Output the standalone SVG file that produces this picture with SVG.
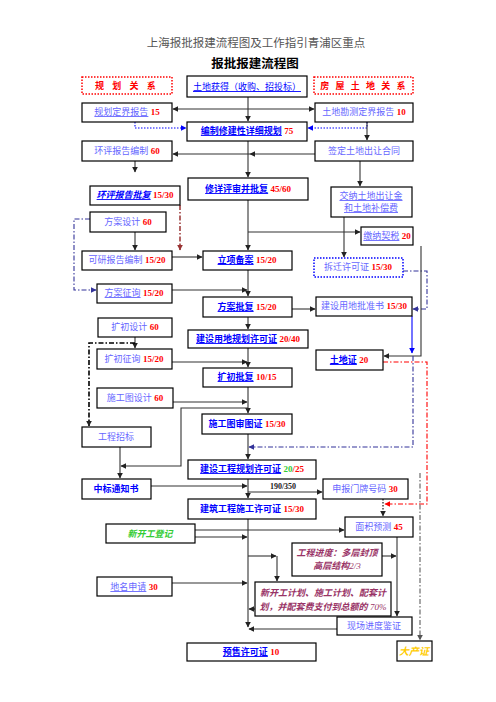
<svg xmlns="http://www.w3.org/2000/svg" width="496" height="702" viewBox="0 0 496 702">
<defs>
<style>
text{font-family:"Liberation Serif","Noto Sans CJK SC",serif;font-size:9px;text-anchor:middle}
.bx{fill:#fff;stroke:#000;stroke-width:1.2}
.rdb{fill:#fff;stroke:#f00;stroke-width:1.5;stroke-dasharray:1.5 1.5}
.bdb{fill:#fff;stroke:#00f;stroke-width:1.5;stroke-dasharray:1.5 1.5}
.lb{fill:#6666ff}
.bb{fill:#0000ff;font-weight:bold}
.bl{fill:#0000ff}
.u{text-decoration:underline}
.n{fill:#f00;font-weight:bold}
.rt{fill:#f00;font-weight:bold}
.it{font-style:italic}
.mg{fill:#993366;font-weight:bold;font-style:italic}
.ln{fill:none;stroke:#333;stroke-width:1.1}
.bln{fill:none;stroke:#00f;stroke-width:1.1}
.bdot{fill:none;stroke:#00f;stroke-width:1.1;stroke-dasharray:1.5 1.5}
.nv{fill:none;stroke:#333399;stroke-width:1.1;stroke-dasharray:5 2 1.5 2}
.rdd{fill:none;stroke:#f00;stroke-width:1.1;stroke-dasharray:5 2 1.5 2}
.drd{fill:none;stroke:#993333;stroke-width:1.5;stroke-dasharray:5 2 1.5 2}
.kdd{fill:none;stroke:#000;stroke-width:1.6;stroke-dasharray:5 2 1.5 2}
.gdd{fill:none;stroke:#777;stroke-width:1.3;stroke-dasharray:5 2 1.5 2}
.kdot{fill:none;stroke:#000;stroke-width:1.1;stroke-dasharray:1.5 1.5}
</style>
<marker id="a" viewBox="0 0 10 10" refX="9" refY="5" markerWidth="6" markerHeight="6" markerUnits="userSpaceOnUse" orient="auto"><path d="M0,0 L10,5 L0,10 z" fill="#222"/></marker>
<marker id="ab" viewBox="0 0 10 10" refX="9" refY="5" markerWidth="6" markerHeight="6" markerUnits="userSpaceOnUse" orient="auto"><path d="M0,0 L10,5 L0,10 z" fill="#00f"/></marker>
<marker id="an" viewBox="0 0 10 10" refX="9" refY="5" markerWidth="6" markerHeight="6" markerUnits="userSpaceOnUse" orient="auto"><path d="M0,0 L10,5 L0,10 z" fill="#333399"/></marker>
<marker id="ar" viewBox="0 0 10 10" refX="9" refY="5" markerWidth="6" markerHeight="6" markerUnits="userSpaceOnUse" orient="auto"><path d="M0,0 L10,5 L0,10 z" fill="#f00"/></marker>
<marker id="ad" viewBox="0 0 10 10" refX="9" refY="5" markerWidth="6" markerHeight="6" markerUnits="userSpaceOnUse" orient="auto"><path d="M0,0 L10,5 L0,10 z" fill="#993333"/></marker>
<marker id="ag" viewBox="0 0 10 10" refX="9" refY="5" markerWidth="6" markerHeight="6" markerUnits="userSpaceOnUse" orient="auto"><path d="M0,0 L10,5 L0,10 z" fill="#555"/></marker>
</defs>
<rect width="496" height="702" fill="#fff"/>
<text x="256" y="47" style="font-size:11.5px;fill:#555">上海报批报建流程图及工作指引青浦区重点</text>
<text x="255" y="68" style="font-size:12.5px;font-weight:bold;fill:#000">报批报建流程图</text>

<g id="connectors">
<path class="ln" d="M248,97 V121" marker-end="url(#a)"/>
<path class="ln" d="M248,109 H173" marker-end="url(#a)"/>
<path class="ln" d="M248,109 H314" marker-end="url(#a)"/>
<path class="bdot" d="M135,122 V128 H186" marker-end="url(#ab)"/>
<path class="bdot" d="M367,122 V128 H308" marker-end="url(#ab)"/>
<path class="ln" d="M367,122 V140" marker-end="url(#a)"/>
<path class="ln" d="M248,141 V177" marker-end="url(#a)"/>
<path class="ln" d="M315,154 H250" marker-end="url(#a)"/>
<path class="ln" d="M250,154 H173" marker-end="url(#a)"/>
<path class="ln" d="M135,161 V172" marker-end="url(#a)"/>
<path class="ln" d="M360,161 V186" marker-end="url(#a)"/>
<path class="ln" d="M248,200 V250" marker-end="url(#a)"/>
<path class="ln" d="M248,232 H360" marker-end="url(#a)"/>
<path class="ln" d="M344,217 V257" marker-end="url(#a)"/>
<path class="drd" d="M180,205 V250" marker-end="url(#ad)"/>
<path class="ln" d="M135,232 V250" marker-end="url(#a)"/>
<path class="ln" d="M172,257 H202" marker-end="url(#a)"/>
<path class="nv" d="M90,219 H74 V290 H96" marker-end="url(#an)"/>
<path class="ln" d="M248,270 V296" marker-end="url(#a)"/>
<path class="ln" d="M172,290 H247" marker-end="url(#a)"/>
<path class="ln" d="M292,309 H315" marker-end="url(#a)"/>
<path class="nv" d="M403,271 H427 V309 H413" marker-end="url(#an)"/>
<path class="ln" d="M421,246 V356 H384" marker-end="url(#a)"/>
<path class="bln" d="M412,316 V353" marker-end="url(#ab)"/>
<path class="nv" d="M413,356 V447 H249" marker-end="url(#an)"/>
<path class="rdd" d="M383,362 H427 V504 H385" marker-end="url(#ar)"/>
<path class="ln" d="M248,317 V329" marker-end="url(#a)"/>
<path class="ln" d="M135,337 V348" marker-end="url(#a)"/>
<path class="kdd" d="M135,343 H89 V426" marker-end="url(#a)"/>
<path class="ln" d="M172,362 H247" marker-end="url(#a)"/>
<path class="ln" d="M248,348 V367" marker-end="url(#a)"/>
<path class="ln" d="M173,402 H247" marker-end="url(#a)"/>
<path class="ln" d="M248,387 V413" marker-end="url(#a)"/>
<path class="ln" d="M248,408 H181 V466 H121" marker-end="url(#a)"/>
<path class="ln" d="M120,447 V478" marker-end="url(#a)"/>
<path class="ln" d="M248,434 V459" marker-end="url(#a)"/>
<path class="ln" d="M151,486 H247" marker-end="url(#a)"/>
<path class="ln" d="M248,479 V498" marker-end="url(#a)"/>
<path class="ln" d="M248,492 H322" marker-end="url(#a)"/>
<path class="kdot" d="M383,499 V516" marker-end="url(#a)"/>
<path class="gdd" d="M420,473 V640" marker-end="url(#ag)"/>
<path class="ln" d="M195,530 H344" marker-end="url(#a)"/>
<path class="ln" d="M195,537 H247" marker-end="url(#a)"/>
<path class="ln" d="M248,519 V627" marker-end="url(#a)"/>
<path class="ln" d="M248,556 H276" marker-end="url(#a)"/>
<path class="ln" d="M277,556 V581" marker-end="url(#a)"/>
<path class="ln" d="M382,556 H396" marker-end="url(#a)"/>
<path class="ln" d="M397,537 V616" marker-end="url(#a)"/>
<path class="ln" d="M255,609 H249" marker-end="url(#a)"/>
<path class="ln" d="M172,583 H247" marker-end="url(#a)"/>
<path class="ln" d="M337,629 H249" marker-end="url(#a)"/>
</g>

<g id="n-guihua-guanxi"><rect class="rdb" x="82" y="77" width="90" height="17"/><text x="127" y="89" class="rt" style="letter-spacing:3px">规 划 关 系</text></g>
<g id="n-tudi-huode"><rect class="bx" x="187" y="76" width="120" height="21"/><text x="247" y="90" class="bl u">土地获得（收购、招投标）</text></g>
<g id="n-fangwu-guanxi"><rect class="rdb" x="314" y="77" width="99" height="17"/><text x="364" y="89" class="rt" style="letter-spacing:2px">房 屋 土 地 关 系</text></g>

<g id="n-guihua-dingjie"><rect class="bx" x="82" y="103" width="90" height="19"/><text x="127" y="115"><tspan class="lb u">规划定界报告</tspan><tspan class="n"> 15</tspan></text></g>
<g id="n-tudi-kance"><rect class="bx" x="315" y="103" width="98" height="19"/><text x="364" y="115"><tspan class="lb">土地勘测定界报告</tspan><tspan class="n"> 10</tspan></text></g>
<g id="n-bianzhi"><rect class="bx" x="187" y="122" width="120" height="19"/><text x="247" y="134"><tspan class="bb u">编制修建性详细规划</tspan><tspan class="n"> 75</tspan></text></g>
<g id="n-huanping-bianzhi"><rect class="bx" x="82" y="141" width="90" height="20"/><text x="127" y="154"><tspan class="lb">环评报告编制</tspan><tspan class="n"> 60</tspan></text></g>
<g id="n-qianding"><rect class="bx" x="315" y="141" width="98" height="20"/><text x="364" y="154" class="lb">签定土地出让合同</text></g>
<g id="n-xiuxiang"><rect class="bx" x="188" y="178" width="120" height="22"/><text x="248" y="192"><tspan class="bb u">修详评审并批复</tspan><tspan class="n"> 45/60</tspan></text></g>
<g id="n-jiaona"><rect class="bx" x="331" y="187" width="81" height="30"/><text x="371" y="199" class="lb u">交纳土地出让金</text><text x="371" y="211" class="lb u">和土地补偿费</text></g>
<g id="n-huanping-pifu"><rect class="bx" x="90" y="186" width="90" height="19"/><text x="135" y="198"><tspan class="bb u it">环评报告批复</tspan><tspan class="n"> 15/30</tspan></text></g>
<g id="n-fangan-sheji"><rect class="bx" x="90" y="212" width="76" height="20"/><text x="128" y="225"><tspan class="lb">方案设计</tspan><tspan class="n"> 60</tspan></text></g>
<g id="n-qishui"><rect class="bx" x="361" y="227" width="52" height="18"/><text x="387" y="239"><tspan class="lb u">缴纳契税</tspan><tspan class="n"> 20</tspan></text></g>
<g id="n-keyan"><rect class="bx" x="82" y="251" width="90" height="19"/><text x="127" y="263"><tspan class="lb">可研报告编制</tspan><tspan class="n"> 15/20</tspan></text></g>
<g id="n-lixiang"><rect class="bx" x="203" y="251" width="89" height="19"/><text x="247" y="263"><tspan class="bb u">立项备案</tspan><tspan class="n"> 15/20</tspan></text></g>
<g id="n-chaiqian"><rect class="bdb" x="314" y="258" width="89" height="19"/><text x="358" y="270"><tspan class="lb">拆迁许可证</tspan><tspan class="n"> 15/30</tspan></text></g>
<g id="n-fangan-zhengxun"><rect class="bx" x="97" y="284" width="75" height="19"/><text x="134" y="296"><tspan class="lb u">方案征询</tspan><tspan class="n"> 15/20</tspan></text></g>
<g id="n-fangan-pifu"><rect class="bx" x="203" y="297" width="89" height="20"/><text x="247" y="310"><tspan class="bb u">方案批复</tspan><tspan class="n"> 15/20</tspan></text></g>
<g id="n-pizhunshu"><rect class="bx" x="316" y="297" width="96" height="19"/><text x="364" y="309"><tspan class="lb">建设用地批准书</tspan><tspan class="n"> 15/30</tspan></text></g>
<g id="n-kuochu-sheji"><rect class="bx" x="98" y="318" width="74" height="19"/><text x="135" y="330"><tspan class="lb">扩初设计</tspan><tspan class="n"> 60</tspan></text></g>
<g id="n-yongdi-guihua"><rect class="bx" x="188" y="330" width="120" height="18"/><text x="248" y="342"><tspan class="bb u">建设用地规划许可证</tspan><tspan class="n"> 20/40</tspan></text></g>
<g id="n-kuochu-zhengxun"><rect class="bx" x="97" y="349" width="75" height="20"/><text x="134" y="362"><tspan class="lb">扩初征询</tspan><tspan class="n"> 15/20</tspan></text></g>
<g id="n-tudizheng"><rect class="bx" x="316" y="350" width="67" height="20"/><text x="349" y="363"><tspan class="bb u">土地证</tspan><tspan class="n"> 20</tspan></text></g>
<g id="n-kuochu-pifu"><rect class="bx" x="203" y="368" width="89" height="19"/><text x="247" y="380"><tspan class="bb u">扩初批复</tspan><tspan class="n"> 10/15</tspan></text></g>
<g id="n-shigongtu-sheji"><rect class="bx" x="97" y="388" width="76" height="20"/><text x="135" y="401"><tspan class="lb">施工图设计</tspan><tspan class="n"> 60</tspan></text></g>
<g id="n-shentuzheng"><rect class="bx" x="202" y="414" width="90" height="20"/><text x="247" y="427"><tspan class="bb">施工图审图证</tspan><tspan class="n"> 15/30</tspan></text></g>
<g id="n-zhaobiao"><rect class="bx" x="82" y="427" width="69" height="20"/><text x="116" y="440" class="lb">工程招标</text></g>
<g id="n-gongcheng-guihua"><rect class="bx" x="188" y="460" width="128" height="19"/><text x="252" y="472"><tspan class="bb u">建设工程规划许可证</tspan><tspan style="fill:#33cc33;font-weight:bold"> 20</tspan><tspan class="n">/25</tspan></text></g>
<g id="n-zhongbiao"><rect class="bx" x="82" y="479" width="69" height="20"/><text x="116" y="492" class="bb">中标通知书</text></g>
<text x="283" y="489" style="font-size:8px;font-weight:bold;fill:#222">190/350</text>
<g id="n-menpai"><rect class="bx" x="323" y="479" width="85" height="20"/><text x="365" y="492"><tspan class="lb">申报门牌号码</tspan><tspan class="n"> 30</tspan></text></g>
<g id="n-shigong-xuke"><rect class="bx" x="188" y="499" width="128" height="20"/><text x="252" y="512"><tspan class="bb">建筑工程施工许可证</tspan><tspan class="n"> 15/30</tspan></text></g>
<g id="n-mianji"><rect class="bx" x="345" y="517" width="68" height="20"/><text x="379" y="530"><tspan class="lb">面积预测</tspan><tspan class="n"> 45</tspan></text></g>
<g id="n-xinkaigong"><rect class="bx" x="106" y="524" width="89" height="19"/><text x="150" y="537" style="fill:#33cc33;font-weight:bold;font-style:italic">新开工登记</text></g>
<g id="n-jindu"><rect class="bx" x="292" y="543" width="90" height="33"/><text x="337" y="556" class="mg">工程进度：多层封顶</text><text x="337" y="569"><tspan class="mg">高层结构</tspan><tspan style="fill:#993366;font-style:italic">2/3</tspan></text></g>
<g id="n-jihua"><rect class="bx" x="255" y="582" width="136" height="34"/><text x="323" y="596" class="mg">新开工计划、施工计划、配套计</text><text x="323" y="610"><tspan class="mg">划，并配套费支付到总额的</tspan><tspan style="fill:#993366;font-style:italic"> 70%</tspan></text></g>
<g id="n-diming"><rect class="bx" x="97" y="577" width="75" height="19"/><text x="134" y="590"><tspan class="lb u">地名申请</tspan><tspan class="n"> 30</tspan></text></g>
<g id="n-jianzheng"><rect class="bx" x="337" y="617" width="75" height="18"/><text x="374" y="629" class="lb">现场进度鉴证</text></g>
<g id="n-yushou"><rect class="bx" x="187" y="643" width="129" height="18"/><text x="251" y="655"><tspan class="bb u">预售许可证</tspan><tspan class="n"> 10</tspan></text></g>
<g id="n-dachanzheng"><rect class="bx" x="397" y="641" width="35" height="20"/><text x="414" y="655" style="fill:#ffcc00;font-weight:bold;font-style:italic;font-size:10px">大产证</text></g>
</svg>
